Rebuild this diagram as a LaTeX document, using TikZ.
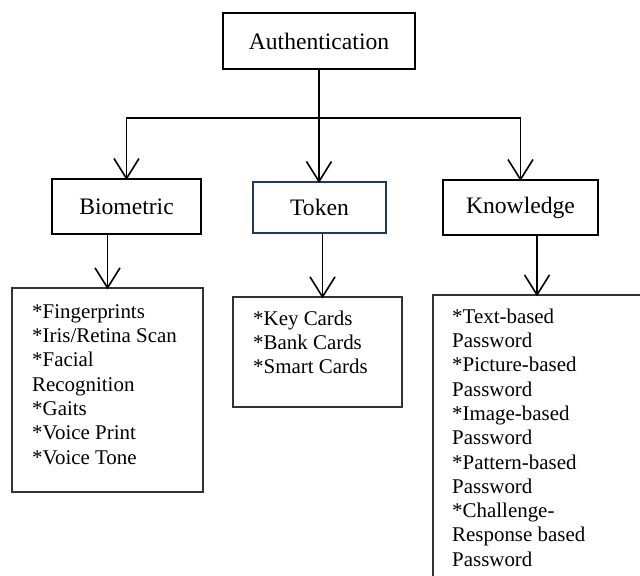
\documentclass[tikz,border=0pt]{standalone}
\usepackage{fontspec}
\setmainfont{Liberation Serif}
\usetikzlibrary{arrows.meta}
\definecolor{navy}{HTML}{1F3864}
\begin{document}
\begin{tikzpicture}[x=1bp,y=-1bp,
  hbox/.style={draw,line width=2bp,inner sep=0,font=\fontsize{23.7}{28}\selectfont},
  lbox/.style={draw=black!80,line width=1.3bp,inner sep=0},
  ltext/.style={inner sep=0,anchor=north west,align=left,font=\fontsize{21}{24.4}\selectfont},
  arr/.style={line width=1.6bp,-{Straight Barb[length=20bp,width=25bp,line width=1.6bp]}},
  ln/.style={line width=1.6bp}]
\useasboundingbox (0,0) rectangle (640,576);
\fill[white] (0,0) rectangle (640,576);

\node[hbox,minimum width=192bp,minimum height=56bp] (auth) at (319,41) {Authentication};
\node[hbox,minimum width=149bp,minimum height=55bp] (bio) at (126.5,206.5) {Biometric};
\node[hbox,draw=navy,minimum width=133bp,minimum height=51bp] (tok) at (319.5,207.5) {Token};
\node[hbox,minimum width=155bp,minimum height=55bp] (know) at (520.5,207.5) {Knowledge};

\node[lbox,minimum width=191bp,minimum height=204bp] (biolist) at (107.5,390) {};
\node[lbox,minimum width=169bp,minimum height=110bp] (toklist) at (317.5,352) {};
\node[lbox,minimum width=208bp,minimum height=305bp] (knowlist) at (537,447.5) {};

\node[ltext] (biotext) at (32,302) {\rule{0pt}{16bp}*Fingerprints\\*Iris/Retina Scan\\*Facial\\Recognition\\*Gaits\\*Voice Print\\*Voice Tone};
\node[ltext] (toktext) at (253,309) {\rule{0pt}{16bp}*Key Cards\\*Bank Cards\\*Smart Cards};
\node[ltext] (knowtext) at (452,307) {\rule{0pt}{16bp}*Text-based\\Password\\*Picture-based\\Password\\*Image-based\\Password\\*Pattern-based\\Password\\*Challenge-\\Response based\\Password};

\draw[ln] (auth.south) -- ++(0,48) coordinate (bus);
\draw[arr] (bus) -| ([yshift=-2bp]bio.north);
\draw[arr] (bus) -| ([yshift=-2bp]know.north);
\draw[arr] (bus) -- ([yshift=-2bp]bus |- tok.north);

\draw[arr] (biolist.north |- bio.south) -- ([yshift=-2bp]biolist.north);
\draw[arr] ([xshift=3bp]tok.south) -- ([xshift=3bp,yshift=-2bp]tok.south |- toklist.north);
\draw[arr] (knowlist.north |- know.south) -- ([yshift=-2bp]knowlist.north);
\end{tikzpicture}
\end{document}
